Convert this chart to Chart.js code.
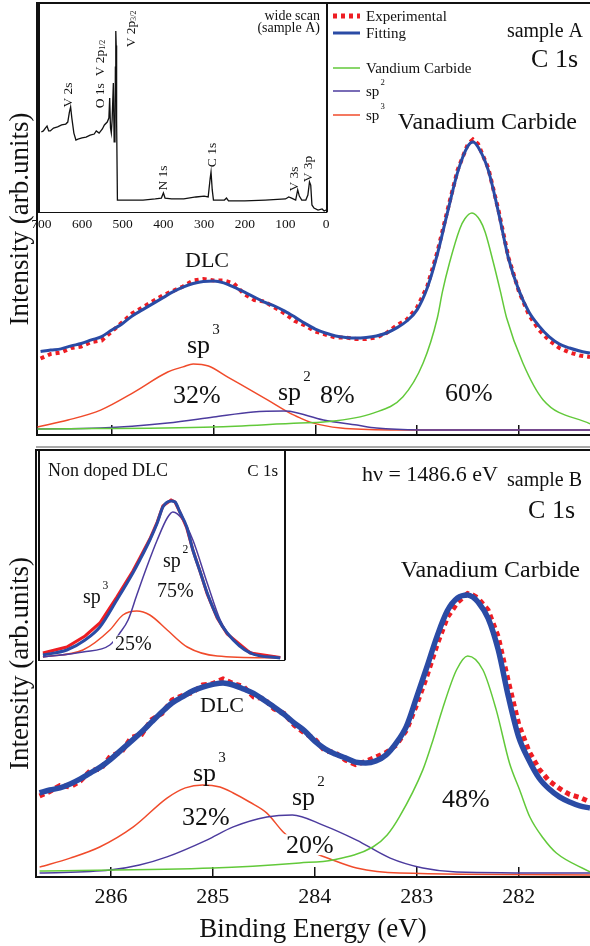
<!DOCTYPE html>
<html><head><meta charset="utf-8">
<script src="https://cdn.jsdelivr.net/npm/chart.js@4.4.1/dist/chart.umd.min.js"></script>
<style>
html,body{margin:0;padding:0;background:#fff;}
#wrap{position:relative;width:590px;height:946px;overflow:hidden;background:#fff;}
canvas{position:absolute;}
</style></head><body>
<div id="wrap">
<canvas id="cA" width="590" height="450" style="left:0;top:0"></canvas>
<canvas id="cB" width="590" height="498" style="left:0;top:448px"></canvas>
<canvas id="cW" width="312" height="236" style="left:20px;top:0"></canvas>
<canvas id="cN" width="252" height="214" style="left:37px;top:448px"></canvas>
</div>
<script>
// ---------- DATA ----------
const energy = [286.7,286.6,286.5,286.4,286.3,286.2,286.1,286.0,285.9,285.8,285.7,285.6,285.5,285.4,285.3,285.2,285.1,285.0,284.9,284.8,284.7,284.6,284.5,284.4,284.3,284.2,284.1,284.0,283.9,283.8,283.7,283.6,283.5,283.4,283.3,283.2,283.1,283.0,282.9,282.8,282.7,282.6,282.5,282.45,282.4,282.3,282.2,282.1,282.0,281.9,281.8,281.7,281.6,281.5,281.4,281.3];

// sample A
const expA = [25.5,27.0,27.5,29.0,29.5,31.0,31.5,34.5,37.5,40.5,42.5,44.5,46.5,48.0,49.5,51.5,52.0,51.5,51.5,50.5,47.0,45.0,44.5,42.5,40.5,38.0,36.5,34.5,33.5,32.5,32.5,32.0,32.0,32.5,34.0,36.5,38.5,42.5,49.5,61.0,75.0,88.5,97.0,98.5,97.0,89.0,75.0,59.0,48.0,40.0,35.0,31.5,29.0,27.5,26.5,26.0];
const fitA = [27.8,28.3,28.7,29.7,30.5,31.7,32.8,35.0,37.0,39.7,41.7,43.7,45.7,47.7,49.3,50.5,51.2,51.3,50.7,49.3,47.7,46.0,44.3,43.0,41.3,39.3,37.2,35.3,34.0,33.0,32.5,32.3,32.5,33.0,34.0,35.7,38.0,41.7,49.0,60.3,74.3,87.7,96.3,97.7,96.0,88.3,74.3,58.7,48.3,41.0,36.3,32.7,30.3,29.0,28.0,27.3];
const vcA_E = [286.73,285.0,284.15,283.92,283.43,283.14,282.94,282.80,282.75,282.68,282.58,282.53,282.46,282.38,282.33,282.25,282.18,282.12,281.96,281.76,281.30];
const vcA_I = [2.0,2.7,4.0,4.3,7.3,12.7,24.0,39.1,47.8,57.5,68.7,72.1,74.0,71.5,67.6,57.5,47.8,39.1,24.0,11.7,3.7];
const sp2A_E = [286.73,286.11,285.45,285.0,284.61,284.31,284.25,283.92,283.59,283.4,282.97,281.3];
const sp2A_I = [2.0,2.3,4.0,6.0,7.7,8.0,7.9,5.0,3.3,2.3,1.7,1.7];
const sp3A_E = [286.73,286.43,286.11,285.78,285.45,285.3,285.2,285.05,284.86,284.47,284.25,284.15,284.05,283.75,283.26,281.3];
const sp3A_I = [2.7,5.0,8.3,14.3,21.0,22.7,23.7,23.0,19.3,11.7,7.3,5.7,4.3,2.3,1.7,1.7];

// sample B
const expB = [27.0,28.5,30.5,30.0,32.0,35.5,36.0,40.5,41.5,46.5,47.5,52.5,54.5,59.0,60.5,61.5,64.0,64.5,66.0,64.5,63.5,60.0,59.5,56.0,54.5,50.5,48.0,46.0,42.0,41.5,39.0,37.5,38.5,40.0,41.5,44.0,49.0,57.5,67.0,77.5,86.5,91.5,94.5,94.0,93.0,89.0,80.0,65.0,51.0,42.0,36.0,32.0,29.5,27.5,26.5,25.0];
const fitB = [28.0,29.0,29.7,31.0,32.7,34.7,36.7,39.3,42.3,45.3,48.3,51.7,55.0,58.0,60.0,62.0,63.3,64.2,64.7,64.0,62.7,61.2,59.0,56.7,54.2,51.3,48.7,45.3,42.7,41.0,39.7,38.3,38.0,38.7,40.7,44.7,50.3,60.0,70.0,80.3,88.7,93.0,94.0,93.3,91.7,86.3,75.7,60.0,46.7,39.0,33.0,29.3,26.7,25.0,23.7,23.0];
const vcB_E = [286.70,285.0,284.15,283.82,283.43,283.29,283.17,282.94,282.84,282.75,282.61,282.50,282.35,282.22,282.09,281.99,281.89,281.76,281.63,281.30];
const vcB_I = [2.0,3.0,4.7,5.7,10.0,14.0,20.0,35.7,45.7,55.7,69.0,73.7,69.0,55.7,38.0,29.0,20.0,13.0,8.0,1.7];
const sp2B_E = [286.70,286.01,285.72,285.45,285.06,284.80,284.47,284.22,283.92,283.59,283.26,282.94,282.61,281.30];
const sp2B_I = [1.3,2.3,4.0,6.7,12.3,16.7,20.0,20.7,17.3,12.3,6.3,3.0,1.7,1.3];
const sp3B_E = [286.70,286.40,286.11,285.78,285.45,285.27,285.10,284.93,284.80,284.64,284.47,284.31,284.15,284.0,283.85,283.59,283.17,281.30];
const sp3B_I = [3.3,6.3,10.0,16.7,26.3,29.7,30.7,30.0,28.0,25.0,21.3,15.0,10.5,8.0,6.0,3.0,1.3,0.7];

// non doped DLC inset
const ndE = [288.39,287.84,287.42,287.08,286.69,286.32,286.16,285.93,285.76,285.63,285.44,285.35,285.24,285.08,284.94,284.77,284.61,284.38,284.15,283.62,282.93];
const ndFit = [2.5,5,10,16.5,30,43.5,50,60,68.5,76.5,79.5,79,74,66.5,55,44,33.5,21.5,13.5,3.5,1];
const ndExp = [3.5,6.5,12,18.5,31.5,44.5,51,60.5,69,77,80,79,74,66,55,44,33,21,13,3.5,1.2];
const ndSp2_E = [288.39,287.47,286.85,286.62,286.43,286.23,286.0,285.76,285.53,285.40,285.17,284.94,284.61,284.31,284.01,283.55,282.93];
const ndSp2_I = [1.5,4,7.5,13.5,20,32.5,46.5,60,71,74,70,60,38.5,20,10,3.5,1.5];
const ndSp3_E = [288.39,287.47,286.85,286.55,286.23,285.93,285.53,285.07,284.38,282.93];
const ndSp3_I = [1.5,5,15,22.5,24.5,22.5,15,6.5,2,1];

// wide scan inset
const wideE = [700,695,690,686,682,678,670,660,650,640,635,631,628,625,620,615,610,600,590,580,570,565,558,550,545,538,534,532,530,528,526,523,521,519,518,517,516,515,513,510,500,480,450,420,405,400,396,380,350,320,300,290,285,283,280,277,270,250,245,240,220,200,150,100,92,85,75,70,66,60,50,45,41,38,35,30,20,10,5,0];
const wideI = [44.2,44.8,46.4,47.5,44.8,44.8,46.4,47.0,48.1,48.6,49.7,55.2,58.0,51.9,43.6,39.8,40.3,40.9,41.4,42.5,43.1,44.8,43.6,45.9,48.1,49.7,51.9,63.0,46.4,43.6,50.8,71.3,38.7,39.8,80,100,92,50.8,6.6,6.6,6.6,6.6,6.6,7.2,7.7,10.5,7.7,7.2,7.2,8.3,8.8,8.3,18.8,22.1,12.2,6.6,6.6,6.6,7.7,6.1,6.1,6.1,6.6,7.2,8.3,7.7,6.6,12.2,8.8,6.6,6.6,9.4,16.6,14.9,3.9,2.2,1.1,1.7,0.6,1.1];

const mainTicks = [286,285,284,283,282];
const wideTicks = [700,600,500,400,300,200,100,0];
const insetTicks = [288,287,286,285,284,283];

// ---------- STYLE ----------
const SERIF = "'Liberation Serif','Times New Roman',Times,serif";
const RED = '#ee1d23', BLUE = '#2a4ba5', GREEN = '#62c93a', PURPLE = '#4c3b9e', ORANGE = '#f04b2b', INK = '#111';
const pts = (E, I) => E.map((e, i) => ({x: e, y: I[i]}));

function rich(ctx, it, ox, oy) {
  const size = it.size;
  let total = 0;
  const segs = it.parts.map(p => {
    const s = (p.sup || p.sub) ? size * 0.58 : size;
    ctx.font = s + 'px ' + SERIF;
    const w = ctx.measureText(p.t).width;
    const g = p.sup ? size * 0.08 : 0;
    total += w + g;
    return {p, s, w, g};
  });
  ctx.save();
  ctx.translate(it.x - ox, it.y - oy);
  if (it.rot) ctx.rotate(it.rot * Math.PI / 180);
  let x0 = it.align === 'center' ? -total / 2 : it.align === 'right' ? -total : 0;
  ctx.textBaseline = it.rot ? 'middle' : 'alphabetic';
  if (it.bg) { ctx.fillStyle = '#fff'; ctx.fillRect(x0 - 2, -size * 0.72, total + 4, size * 0.8); }
  ctx.fillStyle = it.color || INK;
  for (const sg of segs) {
    ctx.font = sg.s + 'px ' + SERIF;
    x0 += sg.g;
    const dy = sg.p.sup ? -size * 0.72 : sg.p.sub ? size * 0.22 : 0;
    ctx.fillText(sg.p.t, x0, dy);
    x0 += sg.w;
  }
  ctx.restore();
}

const DECO = {
  cA: {
    ox: 0, oy: 0, frame: ['top'],
    lines: [{x1: 36, y1: 447, x2: 590, y2: 447, c: '#8c8c8c', w: 1.5}],
    legend: [
      {ds: 1, y: 16, parts: [{t: 'Experimental'}]},
      {ds: 0, y: 33, parts: [{t: 'Fitting'}]},
      {ds: 2, y: 68, parts: [{t: 'Vandium Carbide'}]},
      {ds: 3, y: 91, parts: [{t: 'sp'}, {t: '2', sup: true}]},
      {ds: 4, y: 115, parts: [{t: 'sp'}, {t: '3', sup: true}]}
    ],
    labels: [
      {parts: [{t: 'sample A'}], x: 583, y: 37, size: 20, align: 'right'},
      {parts: [{t: 'C 1s'}], x: 578, y: 67, size: 26, align: 'right'},
      {parts: [{t: 'Vanadium Carbide'}], x: 577, y: 129, size: 24, align: 'right'},
      {parts: [{t: 'DLC'}], x: 207, y: 267, size: 22, align: 'center'},
      {parts: [{t: 'sp'}, {t: '3', sup: true}], x: 187, y: 353, size: 26},
      {parts: [{t: '32%'}], x: 173, y: 403, size: 26},
      {parts: [{t: 'sp'}, {t: '2', sup: true}], x: 278, y: 400, size: 26},
      {parts: [{t: '8%'}], x: 320, y: 403, size: 26},
      {parts: [{t: '60%'}], x: 445, y: 401, size: 26}
    ]
  },
  cB: {
    ox: 0, oy: 448, frame: ['top'],
    labels: [
      {parts: [{t: 'h\u03bd = 1486.6 eV'}], x: 362, y: 481, size: 22},
      {parts: [{t: 'sample B'}], x: 582, y: 486, size: 20, align: 'right'},
      {parts: [{t: 'C 1s'}], x: 575, y: 518, size: 26, align: 'right'},
      {parts: [{t: 'Vanadium Carbide'}], x: 580, y: 577, size: 24, align: 'right'},
      {parts: [{t: 'DLC'}], x: 222, y: 712, size: 22, align: 'center'},
      {parts: [{t: 'sp'}, {t: '3', sup: true}], x: 193, y: 781, size: 26},
      {parts: [{t: '32%'}], x: 182, y: 825, size: 26},
      {parts: [{t: 'sp'}, {t: '2', sup: true}], x: 292, y: 805, size: 26},
      {parts: [{t: '20%'}], x: 286, y: 853, size: 26, bg: true},
      {parts: [{t: '48%'}], x: 442, y: 807, size: 26}
    ]
  },
  cW: {
    ox: 20, oy: 0, fill: true, frame: ['top', 'left', 'right'],
    labels: [
      {parts: [{t: 'wide scan'}], x: 320, y: 20, size: 14, align: 'right'},
      {parts: [{t: '(sample A)'}], x: 320, y: 32, size: 14, align: 'right'},
      {parts: [{t: 'V 2s'}], x: 68, y: 95, size: 13.5, align: 'center', rot: -90},
      {parts: [{t: 'O 1s  V 2p'}, {t: '1/2', sub: true}], x: 100, y: 74, size: 13.5, align: 'center', rot: -90},
      {parts: [{t: 'V 2p'}, {t: '3/2', sub: true}], x: 131, y: 29, size: 13.5, align: 'center', rot: -90},
      {parts: [{t: 'N 1s'}], x: 163, y: 178, size: 13.5, align: 'center', rot: -90},
      {parts: [{t: 'C 1s'}], x: 212, y: 155, size: 13.5, align: 'center', rot: -90},
      {parts: [{t: 'V 3s'}], x: 294, y: 179, size: 13.5, align: 'center', rot: -90},
      {parts: [{t: 'V 3p'}], x: 308, y: 169, size: 13.5, align: 'center', rot: -90}
    ]
  },
  cN: {
    ox: 37, oy: 448, fill: true, frame: ['top', 'left', 'right'],
    labels: [
      {parts: [{t: 'Non doped DLC'}], x: 48, y: 476, size: 18},
      {parts: [{t: 'C 1s'}], x: 278, y: 476, size: 17, align: 'right'},
      {parts: [{t: 'sp'}, {t: '3', sup: true}], x: 83, y: 603, size: 20},
      {parts: [{t: 'sp'}, {t: '2', sup: true}], x: 163, y: 567, size: 20},
      {parts: [{t: '75%'}], x: 157, y: 597, size: 20},
      {parts: [{t: '25%'}], x: 115, y: 650, size: 20, bg: true}
    ]
  }
};

Chart.register({
  id: 'deco',
  beforeDatasetsDraw(chart) {
    const d = DECO[chart.canvas.id]; if (!d || !d.fill) return;
    const a = chart.chartArea, ctx = chart.ctx;
    ctx.save(); ctx.fillStyle = '#fff';
    ctx.fillRect(a.left, a.top, a.right - a.left, a.bottom - a.top);
    ctx.restore();
  },
  afterDraw(chart) {
    const d = DECO[chart.canvas.id]; if (!d) return;
    const a = chart.chartArea, ctx = chart.ctx;
    ctx.save();
    ctx.strokeStyle = INK; ctx.lineWidth = 2;
    for (const s of d.frame || []) {
      ctx.beginPath();
      if (s === 'top') { ctx.moveTo(a.left - 1, a.top); ctx.lineTo(a.right + 1, a.top); }
      if (s === 'left') { ctx.moveTo(a.left, a.top); ctx.lineTo(a.left, a.bottom); }
      if (s === 'right') { ctx.moveTo(a.right, a.top); ctx.lineTo(a.right, a.bottom); }
      ctx.stroke();
    }
    for (const l of d.lines || []) {
      ctx.beginPath(); ctx.strokeStyle = l.c; ctx.lineWidth = l.w;
      ctx.moveTo(l.x1 - d.ox, l.y1 - d.oy); ctx.lineTo(l.x2 - d.ox, l.y2 - d.oy); ctx.stroke();
    }
    for (const g of d.legend || []) {
      const ds = chart.data.datasets[g.ds];
      ctx.beginPath(); ctx.strokeStyle = ds.borderColor;
      ctx.lineWidth = g.ds === 1 ? 5 : ds.borderWidth;
      ctx.setLineDash(ds.borderDash || []);
      ctx.moveTo(333, g.y); ctx.lineTo(360, g.y); ctx.stroke();
      ctx.setLineDash([]);
      rich(ctx, {parts: g.parts, x: 366, y: g.y + 5, size: 15}, 0, 0);
    }
    for (const it of d.labels || []) rich(ctx, it, d.ox, d.oy);
    ctx.restore();
  }
});

function setTicks(list) { return s => { s.ticks = list.map(v => ({value: v})); }; }
function fixH(h) { return s => { s.height = h; s.paddingLeft = 0; s.paddingRight = 0; }; }
const base = {
  responsive: false, animation: false, events: [],
  plugins: {legend: {display: false}, tooltip: {enabled: false}},
  elements: {point: {radius: 0}}
};
function lineDs(label, data, color, width, order, extra) {
  return Object.assign({label, data, borderColor: color, backgroundColor: color, borderWidth: width,
    pointRadius: 0, fill: false, order, cubicInterpolationMode: 'monotone'}, extra || {});
}

// ---------- TOP: sample A ----------
new Chart(document.getElementById('cA'), {
  type: 'line',
  data: {datasets: [
    lineDs('Fitting', pts(energy, fitA), BLUE, 3, 0),
    lineDs('Experimental', pts(energy, expA), RED, 4, 1, {borderDash: [4, 4], cubicInterpolationMode: 'default', tension: 0}),
    lineDs('Vandium Carbide', pts(vcA_E, vcA_I), GREEN, 1.5, 2),
    lineDs('sp2', pts(sp2A_E, sp2A_I), PURPLE, 1.5, 3),
    lineDs('sp3', pts(sp3A_E, sp3A_I), ORANGE, 1.5, 4)
  ]},
  options: Object.assign({}, base, {
    layout: {padding: {top: 3, left: 0, right: 0, bottom: 0}},
    scales: {
      x: {type: 'linear', reverse: true, min: 281.30, max: 286.735,
        afterBuildTicks: setTicks(mainTicks), afterFit: fixH(15),
        ticks: {display: false},
        grid: {drawOnChartArea: false, drawTicks: true, tickLength: -10, color: INK, tickColor: INK, lineWidth: 1.5},
        border: {display: true, color: INK, width: 2}},
      y: {type: 'linear', min: 0, max: 144, afterFit: s => { s.width = 37; },
        ticks: {display: false}, grid: {display: false},
        border: {display: true, color: INK, width: 2},
        title: {display: true, text: 'Intensity (arb.units)', color: INK, font: {family: SERIF, size: 27}, padding: {top: 5, bottom: 0}}}
    }
  })
});

// ---------- BOTTOM: sample B ----------
new Chart(document.getElementById('cB'), {
  type: 'line',
  data: {datasets: [
    lineDs('Fitting', pts(energy, fitB), BLUE, 5.5, 0),
    lineDs('Experimental', pts(energy, expB), RED, 5, 1, {borderDash: [5, 4], cubicInterpolationMode: 'default', tension: 0}),
    lineDs('Vanadium Carbide', pts(vcB_E, vcB_I), GREEN, 1.5, 2),
    lineDs('sp2', pts(sp2B_E, sp2B_I), PURPLE, 1.5, 3),
    lineDs('sp3', pts(sp3B_E, sp3B_I), ORANGE, 1.5, 4)
  ]},
  options: Object.assign({}, base, {
    layout: {padding: {top: 2, left: 0, right: 0, bottom: 0}},
    scales: {
      x: {type: 'linear', reverse: true, min: 281.30, max: 286.735,
        afterBuildTicks: setTicks(mainTicks), afterFit: fixH(69),
        ticks: {display: true, color: INK, font: {family: SERIF, size: 22}, padding: 17, maxRotation: 0},
        grid: {drawOnChartArea: false, drawTicks: true, tickLength: -10, color: INK, tickColor: INK, lineWidth: 1.5},
        border: {display: true, color: INK, width: 2},
        title: {display: true, text: 'Binding Energy (eV)', color: INK, font: {family: SERIF, size: 27}, padding: {top: 0, bottom: 0}}},
      y: {type: 'linear', min: 0, max: 142.33, afterFit: s => { s.width = 36; },
        ticks: {display: false}, grid: {display: false},
        border: {display: true, color: INK, width: 2},
        title: {display: true, text: 'Intensity (arb.units)', color: INK, font: {family: SERIF, size: 27}, padding: {top: 5, bottom: 0}}}
    }
  })
});

// ---------- INSET: wide scan ----------
new Chart(document.getElementById('cW'), {
  type: 'line',
  data: {datasets: [
    lineDs('wide scan (sample A)', pts(wideE, wideI), INK, 1.3, 0, {cubicInterpolationMode: 'default', tension: 0})
  ]},
  options: Object.assign({}, base, {
    layout: {padding: {top: 3, left: 19, right: 5, bottom: 0}},
    scales: {
      x: {type: 'linear', reverse: true, min: -2, max: 705.7,
        afterBuildTicks: setTicks(wideTicks), afterFit: fixH(24),
        ticks: {display: true, color: INK, font: {family: SERIF, size: 13.5}, padding: 12, maxRotation: 0, autoSkip: false},
        grid: {drawOnChartArea: false, drawTicks: true, tickLength: -8, color: INK, tickColor: INK, lineWidth: 1.2},
        border: {display: true, color: INK, width: 2}},
      y: {type: 'linear', display: false, min: 0, max: 115.5}
    }
  })
});

// ---------- INSET: non doped DLC ----------
new Chart(document.getElementById('cN'), {
  type: 'line',
  data: {datasets: [
    lineDs('Fitting', pts(ndE, ndFit), BLUE, 3, 0),
    lineDs('Experimental', pts(ndE, ndExp), RED, 3, 1, {cubicInterpolationMode: 'default', tension: 0}),
    lineDs('sp2', pts(ndSp2_E, ndSp2_I), PURPLE, 1.5, 2),
    lineDs('sp3', pts(ndSp3_E, ndSp3_I), ORANGE, 1.5, 3)
  ]},
  options: Object.assign({}, base, {
    layout: {padding: {top: 2, left: 2, right: 4, bottom: 0}},
    scales: {
      x: {type: 'linear', reverse: true, min: 282.82, max: 288.48,
        afterBuildTicks: setTicks(insetTicks), afterFit: fixH(2),
        ticks: {display: false},
        grid: {drawOnChartArea: false, drawTicks: true, tickLength: -7, color: INK, tickColor: INK, lineWidth: 1.2},
        border: {display: true, color: INK, width: 2}},
      y: {type: 'linear', display: false, min: 0, max: 105}
    }
  })
});
</script>
</body></html>
